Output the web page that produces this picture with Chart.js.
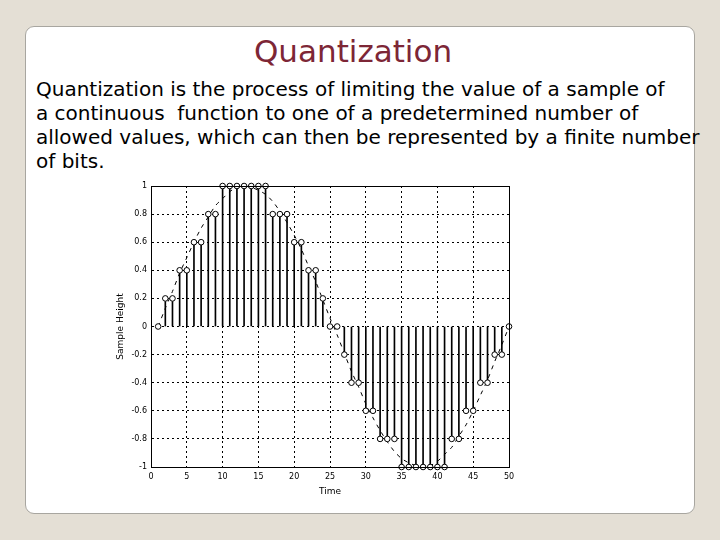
<!DOCTYPE html>
<html>
<head>
<meta charset="utf-8">
<script src="https://cdn.jsdelivr.net/npm/chart.js@4.4.0/dist/chart.umd.min.js"></script>
<style>
  body { margin: 0; width: 720px; height: 540px; background: #e4dfd5; position: relative; overflow: hidden; }
  .panel { position: absolute; left: 25px; top: 26px; width: 668px; height: 486px; background: #fff; border: 1px solid #a8a6a0; border-radius: 9px; }
  h1 { position: absolute; left: 0; width: 706px; top: 33px; margin: 0; text-align: center; font: 31px "DejaVu Sans", sans-serif; color: #7d2636; font-weight: normal; }
  .txt { position: absolute; left: 36px; top: 77px; font: 20px "DejaVu Sans", sans-serif; line-height: 24px; white-space: nowrap; color: #000; }
  .wrap { position: absolute; left: 115px; top: 175px; width: 410px; height: 322px; }
</style>
</head>
<body>
<div class="panel"></div>
<h1>Quantization</h1>
<div class="txt">Quantization is the process of limiting the value of a sample of<br>a continuous&nbsp; function to one of a predetermined number of<br>allowed values, which can then be represented by a finite number<br>of bits.</div>
<div class="wrap"><canvas id="chart" width="410" height="322"></canvas></div>
<script>
// sample times
const times = [1,2,3,4,5,6,7,8,9,10,11,12,13,14,15,16,17,18,19,20,21,22,23,24,25,
  26,27,28,29,30,31,32,33,34,35,36,37,38,39,40,41,42,43,44,45,46,47,48,49,50];

// quantized sample heights (stems)
const quantized = [0,0.2,0.2,0.4,0.4,0.6,0.6,0.8,0.8,1,1,1,1,1,1,1,0.8,0.8,0.8,0.6,0.6,0.4,0.4,0.2,0,
  0,-0.2,-0.4,-0.4,-0.6,-0.6,-0.8,-0.8,-0.8,-1,-1,-1,-1,-1,-1,-1,-0.8,-0.8,-0.6,-0.6,-0.4,-0.4,-0.2,-0.2,0];

// continuous signal (dashed curve)
const continuous = [0,0.13,0.25,0.38,0.49,0.6,0.7,0.78,0.86,0.91,0.96,0.99,1,0.99,0.97,0.94,0.89,0.82,0.74,0.65,0.55,0.43,0.32,0.19,0.06,
  -0.06,-0.19,-0.32,-0.43,-0.55,-0.65,-0.74,-0.82,-0.89,-0.94,-0.97,-0.99,-1,-0.99,-0.96,-0.91,-0.86,-0.78,-0.7,-0.6,-0.49,-0.38,-0.25,-0.13,0];

const xTicks = [0,5,10,15,20,25,30,35,40,45,50];
const yTicks = [-1,-0.8,-0.6,-0.4,-0.2,0,0.2,0.4,0.6,0.8,1];

const stemData = times.map((t, i) => ({ x: t, y: quantized[i] }));
const curveData = times.map((t, i) => ({ x: t, y: continuous[i] }));

const frame = {
  id: 'frame',
  afterDraw(chart) {
    const { ctx, chartArea: a } = chart;
    ctx.save();
    ctx.strokeStyle = '#000';
    ctx.lineWidth = 1;
    ctx.strokeRect(Math.round(a.left) + 0.5, Math.round(a.top) + 0.5, Math.round(a.right - a.left), Math.round(a.bottom - a.top));
    ctx.restore();
  }
};

const tickFont = { family: 'DejaVu Sans', size: 8 };

new Chart(document.getElementById('chart'), {
  data: {
    datasets: [
      {
        type: 'line',
        data: curveData,
        borderColor: '#000',
        borderWidth: 1,
        borderDash: [4, 5],
        pointRadius: 0,
        tension: 0.3,
        clip: false,
        order: 3
      },
      {
        type: 'bar',
        data: stemData,
        backgroundColor: '#000',
        barThickness: 1,
        borderWidth: 0,
        clip: false,
        order: 2
      },
      {
        type: 'scatter',
        data: stemData,
        pointRadius: 2.8,
        pointStyle: 'circle',
        pointBackgroundColor: '#fff',
        pointBorderColor: '#000',
        pointBorderWidth: 1,
        clip: false,
        order: 1
      }
    ]
  },
  options: {
    responsive: false,
    animation: false,
    layout: { padding: { top: 11, right: 16, left: 0, bottom: 0 } },
    plugins: { legend: { display: false }, tooltip: { enabled: false } },
    scales: {
      x: {
        type: 'linear',
        offset: false,
        min: 0, max: 50,
        afterBuildTicks: s => { s.ticks = xTicks.map(v => ({ value: v })); },
        afterFit: s => { s.height = 30; },
        ticks: { color: '#000', font: tickFont, padding: 5, maxRotation: 0 },
        grid: { color: '#000', lineWidth: 1, offset: false, drawTicks: false },
        border: { display: true, color: '#000', dash: [2, 3] },
        title: { display: true, text: 'Time', color: '#000', font: { family: 'DejaVu Sans', size: 9 }, padding: 0 }
      },
      y: {
        min: -1, max: 1,
        afterBuildTicks: s => { s.ticks = yTicks.map(v => ({ value: v })); },
        afterFit: s => { s.width = 36; },
        ticks: { color: '#000', font: tickFont, padding: 4, callback: v => String(Math.round(v * 10) / 10) },
        grid: { color: '#000', lineWidth: 1, drawTicks: false },
        border: { display: true, color: '#000', dash: [2, 3] },
        title: { display: true, text: 'Sample Height', color: '#000', font: { family: 'DejaVu Sans', size: 9 }, padding: 0 }
      }
    }
  },
  plugins: [frame]
});
</script>
</body>
</html>
